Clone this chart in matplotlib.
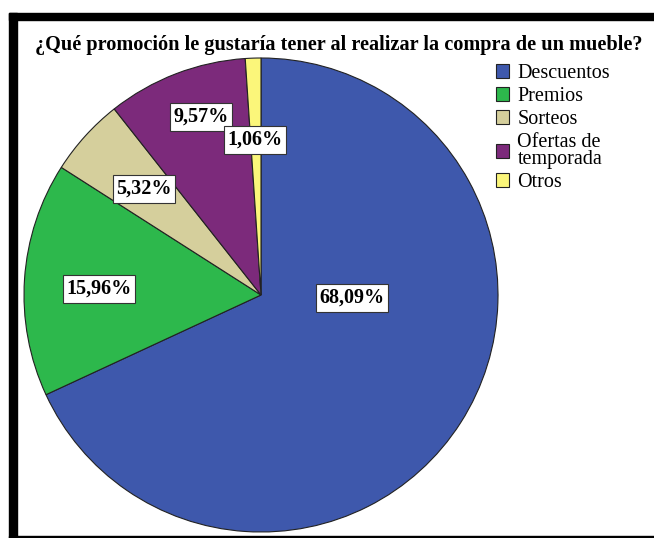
import matplotlib
matplotlib.use("Agg")
import matplotlib.pyplot as plt
from matplotlib.patches import Rectangle

categories = ["Descuentos", "Premios", "Sorteos", "Ofertas de\ntemporada", "Otros"]
percentages = [68.09, 15.96, 5.32, 9.57, 1.06]
colors = ["#3e58ac", "#2db84c", "#d5cf9c", "#7c2a7b", "#fbf67a"]
title = "¿Qué promoción le gustaría tener al realizar la compra de un mueble?"

# label anchor points inside the pie (unit-circle coordinates)
label_xy = [(0.384, -0.013), (-0.684, 0.025), (-0.494, 0.447), (-0.253, 0.751), (-0.025, 0.654)]

W, H = 654, 538
fig = plt.figure(figsize=(W / 100, H / 100), dpi=100)
plt.rcParams["font.family"] = ["Liberation Serif", "DejaVu Serif"]

# pie axes: centre (261, 295) px from top-left, radius 237 px
cx, cy, r = 261, 295, 237
ax = fig.add_axes([(cx - r) / W, (H - cy - r) / H, 2 * r / W, 2 * r / H])
wedges, _ = ax.pie(percentages, colors=colors, startangle=90, counterclock=False,
                   radius=1, wedgeprops=dict(edgecolor="#222222", linewidth=0.8))
ax.set_xlim(-1, 1)
ax.set_ylim(-1, 1)
ax.set_aspect("equal")
ax.axis("off")

for (x, y), p in zip(label_xy, percentages):
    ax.text(x, y, f"{p:.2f}%".replace(".", ","), ha="center", va="center",
            fontsize=14.5, fontweight="bold", color="black",
            bbox=dict(boxstyle="square,pad=0.18", facecolor="white",
                      edgecolor="#333333", linewidth=0.8))

fig.text(339 / W, 1 - 45 / H, title, ha="center", va="center",
         fontsize=14.6, fontweight="bold")

leg = fig.legend(wedges, categories, loc="upper left",
                 bbox_to_anchor=(496 / W, 1 - 64 / H), frameon=False,
                 fontsize=14.5, handlelength=0.64, handleheight=0.64,
                 handletextpad=0.42, labelspacing=0.2, borderpad=0, borderaxespad=0)
for t in leg.get_texts():
    t.set_linespacing(0.85)

# outer frame: heavy top and left bands, thin bottom rule
fig.patches.append(Rectangle((9 / W, 1 - 20 / H), 1 - 9 / W, 7 / H,
                             transform=fig.transFigure, color="black"))
fig.patches.append(Rectangle((9 / W, 0), 8 / W, 1 - 13 / H,
                             transform=fig.transFigure, color="black"))
fig.patches.append(Rectangle((9 / W, 0), 1 - 9 / W, 2 / H,
                             transform=fig.transFigure, color="black"))

fig.savefig("out.png", dpi=100)
